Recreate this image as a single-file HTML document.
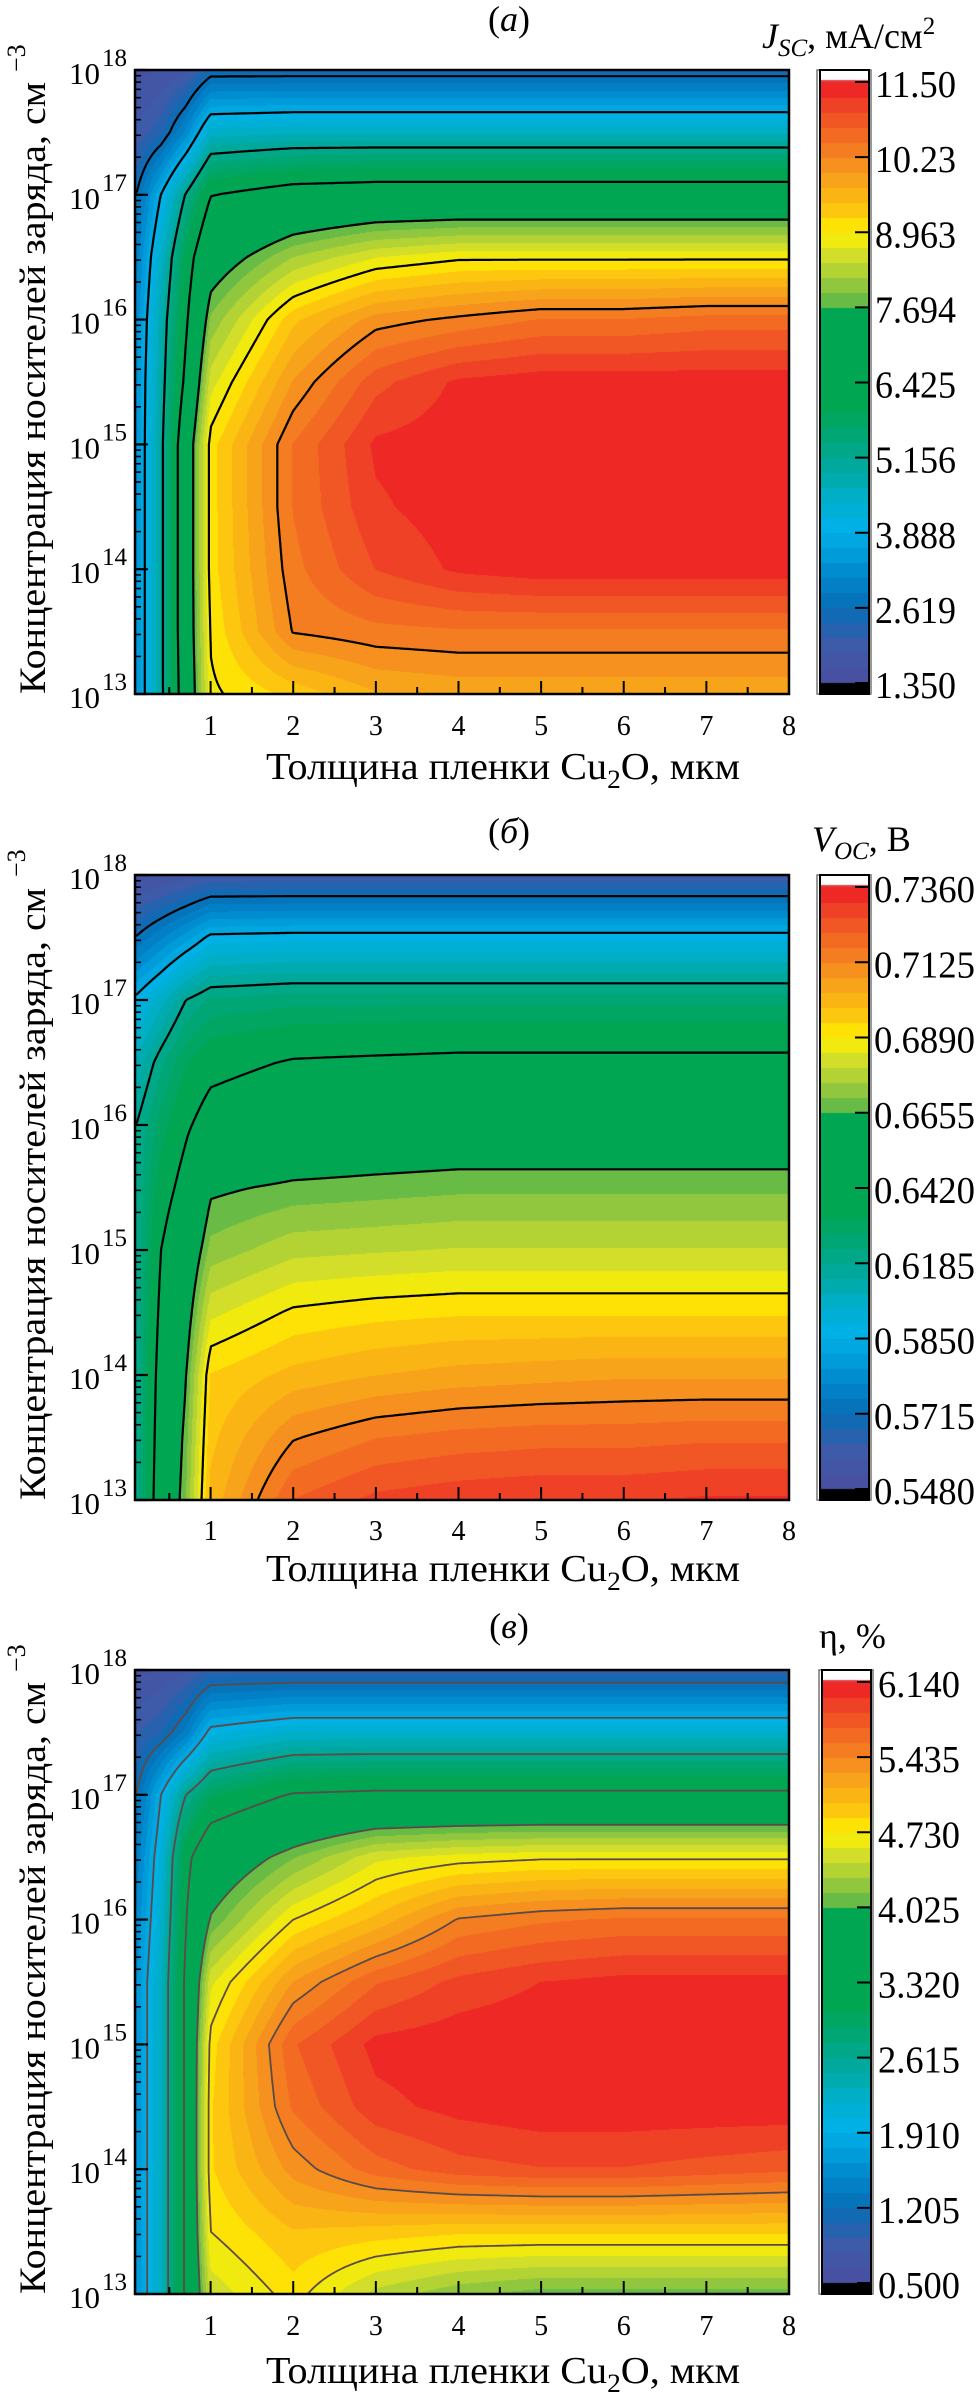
<!DOCTYPE html>
<html><head><meta charset="utf-8">
<style>
html,body{margin:0;padding:0;background:#fff;}
#wrap{position:relative;width:979px;height:2400px;overflow:hidden;background:#fff;}
canvas{position:absolute;display:block;}
svg{position:absolute;left:0;top:0;}
text{font-family:"Liberation Serif","DejaVu Serif",serif;fill:#000;}
</style></head>
<body>
<div id="wrap">
<canvas id="fillA"></canvas>
<canvas id="fillB"></canvas>
<canvas id="fillC"></canvas>
<canvas id="cbA"></canvas>
<canvas id="cbB"></canvas>
<canvas id="cbC"></canvas>
<svg id="ov" width="979" height="2400" xmlns="http://www.w3.org/2000/svg"></svg>
</div>
<script>
// ---- shared grid (x: thickness, µm; y: log10 concentration) ----
const xGrid = [0.1, 0.4, 0.7, 1, 2, 3, 4, 5, 6, 7, 8];
const logNGrid = [18, 17.5, 17, 16.5, 16, 15.5, 15, 14.5, 14, 13.5, 13];
const xTickValues = [1, 2, 3, 4, 5, 6, 7, 8];
const xTickLabels = ["1", "2", "3", "4", "5", "6", "7", "8"];
const yTickExps = [13, 14, 15, 16, 17, 18];

// ---- panel (a) Jsc ----
const jscValues = [
  [1.5, 1.6, 1.8, 2.4, 2.4, 2.4, 2.4, 2.4, 2.4, 2.4, 2.4],
  [1.9, 2.3, 3.2, 4.5, 4.6, 4.6, 4.6, 4.6, 4.6, 4.6, 4.6],
  [2.62, 3.9, 5.2, 6.4, 6.8, 6.9, 6.9, 6.9, 6.9, 6.9, 6.9],
  [3.0, 4.5, 6.0, 7.3, 8.2, 8.7, 8.9, 8.9, 8.9, 8.9, 8.9],
  [3.2, 4.8, 6.3, 8.0, 9.4, 10.1, 10.3, 10.5, 10.5, 10.6, 10.6],
  [3.3, 4.9, 6.6, 8.6, 10.0, 10.9, 11.3, 11.4, 11.4, 11.4, 11.4],
  [3.3, 5.0, 7.1, 9.1, 10.5, 11.3, 11.4, 11.5, 11.5, 11.5, 11.5],
  [3.3, 5.0, 7.1, 9.1, 10.5, 11.2, 11.4, 11.5, 11.5, 11.5, 11.5],
  [3.3, 5.0, 7.1, 9.1, 10.4, 11.0, 11.3, 11.4, 11.4, 11.4, 11.4],
  [3.3, 5.0, 7.1, 9.0, 10.25, 10.4, 10.45, 10.45, 10.45, 10.45, 10.45],
  [3.3, 5.0, 7.0, 8.9, 9.3, 9.7, 9.8, 9.8, 9.8, 9.8, 9.8]
];
const jscLevels = [2.619, 3.888, 5.156, 6.425, 7.694, 8.963, 10.23];
const jscTickLabels = ["11.50", "10.23", "8.963", "7.694", "6.425", "5.156", "3.888", "2.619", "1.350"];
const jscRange = [1.35, 11.5];

// ---- panel (б) Voc ----
const vocValues = [
  [0.550, 0.552, 0.555, 0.558, 0.558, 0.558, 0.558, 0.558, 0.558, 0.558, 0.558],
  [0.572, 0.580, 0.588, 0.597, 0.598, 0.598, 0.598, 0.598, 0.598, 0.598, 0.598],
  [0.597, 0.607, 0.6185, 0.624, 0.626, 0.626, 0.626, 0.626, 0.626, 0.626, 0.626],
  [0.610, 0.622, 0.632, 0.638, 0.643, 0.644, 0.645, 0.645, 0.645, 0.645, 0.645],
  [0.6185, 0.630, 0.640, 0.648, 0.654, 0.656, 0.657, 0.657, 0.657, 0.657, 0.657],
  [0.619, 0.636, 0.647, 0.664, 0.667, 0.668, 0.669, 0.669, 0.669, 0.669, 0.669],
  [0.619, 0.642, 0.655, 0.672, 0.678, 0.679, 0.680, 0.680, 0.680, 0.680, 0.680],
  [0.619, 0.645, 0.660, 0.683, 0.690, 0.692, 0.693, 0.693, 0.693, 0.693, 0.693],
  [0.619, 0.648, 0.665, 0.694, 0.700, 0.703, 0.705, 0.706, 0.707, 0.707, 0.707],
  [0.619, 0.650, 0.668, 0.697, 0.712, 0.717, 0.719, 0.720, 0.720, 0.721, 0.721],
  [0.619, 0.652, 0.670, 0.700, 0.722, 0.728, 0.730, 0.731, 0.731, 0.732, 0.732]
];
const vocLevels = [0.5715, 0.595, 0.6185, 0.642, 0.6655, 0.689, 0.7125];
const vocTickLabels = ["0.7360", "0.7125", "0.6890", "0.6655", "0.6420", "0.6185", "0.5850", "0.5715", "0.5480"];
const vocRange = [0.548, 0.736];

// ---- panel (в) efficiency ----
const etaValues = [
  [0.6, 0.65, 0.75, 0.95, 0.95, 0.95, 0.95, 0.95, 0.95, 0.95, 0.95],
  [0.9, 1.05, 1.4, 2.0, 2.2, 2.2, 2.2, 2.2, 2.2, 2.2, 2.2],
  [1.2, 1.91, 2.615, 3.0, 3.35, 3.4, 3.4, 3.4, 3.4, 3.4, 3.4],
  [1.4, 2.1, 3.2, 3.7, 4.15, 4.55, 4.65, 4.7, 4.7, 4.7, 4.7],
  [1.5, 2.2, 3.3, 4.05, 4.73, 5.05, 5.45, 5.55, 5.6, 5.6, 5.6],
  [1.6, 2.3, 3.4, 4.55, 5.3, 5.7, 5.9, 6.0, 6.05, 6.05, 6.05],
  [1.6, 2.3, 3.4, 4.8, 5.7, 6.05, 6.1, 6.12, 6.12, 6.12, 6.12],
  [1.6, 2.3, 3.4, 4.85, 5.6, 5.95, 6.05, 6.1, 6.1, 6.1, 6.1],
  [1.6, 2.3, 3.4, 4.85, 5.35, 5.65, 5.8, 5.85, 5.85, 5.8, 5.75],
  [1.6, 2.3, 3.4, 4.73, 5.0, 4.95, 4.9, 4.9, 4.9, 4.9, 4.9],
  [1.6, 2.3, 3.4, 4.5, 4.8, 4.4, 4.2, 4.1, 4.1, 4.1, 4.1]
];
const etaLevels = [1.205, 1.91, 2.615, 3.32, 4.025, 4.73, 5.435];
const etaTickLabels = ["6.140", "5.435", "4.730", "4.025", "3.320", "2.615", "1.910", "1.205", "0.500"];
const etaRange = [0.5, 6.14];

// ---- colormap ----
const cmapStops = [
  [0, "#4a4f9f"], [0.06, "#3f5aa8"], [0.12, "#0a6cb4"], [0.17, "#0082c8"], [0.22, "#00a0dc"],
  [0.26, "#00b1e6"], [0.31, "#00aec8"], [0.36, "#00a99d"], [0.42, "#00a66e"], [0.46, "#00a651"],
  [0.615, "#00a651"], [0.63, "#5cb848"], [0.67, "#9dcb3c"], [0.71, "#cfdd2c"], [0.75, "#fff000"],
  [0.79, "#fcc40f"], [0.84, "#f7a21b"], [0.88, "#f58220"], [0.92, "#f26424"], [0.96, "#ef4426"], [1, "#ed1c24"]
];
const NB = 40;
function hex(h){return [parseInt(h.substr(1,2),16),parseInt(h.substr(3,2),16),parseInt(h.substr(5,2),16)];}
const stopsRGB = cmapStops.map(s => [s[0], hex(s[1])]);
function cmap(f){
  f = Math.max(0, Math.min(1, f));
  for (let i = 1; i < stopsRGB.length; i++) {
    if (f <= stopsRGB[i][0]) {
      const a = stopsRGB[i-1], b = stopsRGB[i];
      const t = (f - a[0]) / (b[0] - a[0] || 1);
      return [0,1,2].map(k => Math.round(a[1][k] + (b[1][k]-a[1][k])*t));
    }
  }
  return stopsRGB[stopsRGB.length-1][1];
}
const bandColors = [];
for (let k = 0; k < NB; k++) bandColors.push(cmap((k + 0.5) / NB));
function bandColor(f){ let k = Math.floor(f * NB); if (k < 0) k = 0; if (k >= NB) k = NB-1; return bandColors[k]; }

// ---- geometry ----
const PL = 135, PR = 789, XMIN = 0.085, XMAX = 8;
function xScale(v){ return PL + (v - XMIN) / (XMAX - XMIN) * (PR - PL); }
function xInv(px){ return XMIN + (px - PL) / (PR - PL) * (XMAX - XMIN); }

function interp(values, x, ln){
  x = Math.max(xGrid[0], Math.min(xGrid[xGrid.length-1], x));
  ln = Math.max(13, Math.min(18, ln));
  let i = 0; while (i < xGrid.length-2 && x > xGrid[i+1]) i++;
  const tx = (x - xGrid[i]) / (xGrid[i+1] - xGrid[i]);
  let j = Math.floor((18 - ln) / 0.5); if (j > logNGrid.length-2) j = logNGrid.length-2;
  const ty = (logNGrid[j] - ln) / 0.5;
  const v00 = values[j][i], v01 = values[j][i+1], v10 = values[j+1][i], v11 = values[j+1][i+1];
  return (v00*(1-tx) + v01*tx)*(1-ty) + (v10*(1-tx) + v11*tx)*ty;
}

const NS = "http://www.w3.org/2000/svg";
const ov = document.getElementById("ov");
function el(tag, attrs, parent){
  const e = document.createElementNS(NS, tag);
  for (const k in attrs) e.setAttribute(k, attrs[k]);
  (parent || ov).appendChild(e);
  return e;
}

function renderPanel(cfg){
  const T = cfg.top, B = cfg.bottom, H = B - T, W = PR - PL;
  const yScale = ln => T + (18 - ln) / 5 * H;
  const yInv = py => 18 - (py - T) / H * 5;
  const [vmin, vmax] = cfg.range;

  const cv = document.getElementById(cfg.fillId);
  cv.width = W; cv.height = H; cv.style.left = PL + "px"; cv.style.top = T + "px";
  const ctx = cv.getContext("2d");
  const img = ctx.createImageData(W, H);
  for (let py = 0; py < H; py++) {
    const ln = yInv(T + py + 0.5);
    for (let px = 0; px < W; px++) {
      const v = interp(cfg.values, xInv(PL + px + 0.5), ln);
      const c = bandColor((v - vmin) / (vmax - vmin));
      const o = (py * W + px) * 4;
      img.data[o] = c[0]; img.data[o+1] = c[1]; img.data[o+2] = c[2]; img.data[o+3] = 255;
    }
  }
  ctx.putImageData(img, 0, 0);

  const g = el("g", {});
  
  

  const s = 2;
  const nx = Math.floor(W / s) + 1, ny = Math.floor(H / s) + 1;
  const grid = [];
  for (let j = 0; j < ny; j++) {
    const row = [];
    const ln = yInv(T + Math.min(j*s, H));
    for (let i = 0; i < nx; i++) row.push(interp(cfg.values, xInv(PL + Math.min(i*s, W)), ln));
    grid.push(row);
  }
  cfg.levels.forEach((lv, li) => {
    let d = "";
    for (let j = 0; j < ny-1; j++) for (let i = 0; i < nx-1; i++) {
      const a = grid[j][i], b = grid[j][i+1], c = grid[j+1][i+1], e = grid[j+1][i];
      const pts = [];
      const x0 = PL + i*s, y0 = T + j*s, x1 = PL + Math.min((i+1)*s, W), y1 = T + Math.min((j+1)*s, H);
      if ((a < lv) !== (b < lv)) pts.push([x0 + (lv-a)/(b-a)*(x1-x0), y0]);
      if ((b < lv) !== (c < lv)) pts.push([x1, y0 + (lv-b)/(c-b)*(y1-y0)]);
      if ((e < lv) !== (c < lv)) pts.push([x0 + (lv-e)/(c-e)*(x1-x0), y1]);
      if ((a < lv) !== (e < lv)) pts.push([x0, y0 + (lv-a)/(e-a)*(y1-y0)]);
      if (pts.length >= 2) d += "M" + pts[0][0].toFixed(1) + " " + pts[0][1].toFixed(1) + "L" + pts[1][0].toFixed(1) + " " + pts[1][1].toFixed(1);
      if (pts.length === 4) d += "M" + pts[2][0].toFixed(1) + " " + pts[2][1].toFixed(1) + "L" + pts[3][0].toFixed(1) + " " + pts[3][1].toFixed(1);
    }
    const p = el("path", {d: d, fill: "none", stroke: cfg.lineColor, "stroke-width": cfg.lineWidth, "stroke-linecap": "round"}, g);
    
    
  });

  const fr = el("rect", {x: PL, y: T, width: W, height: H, fill: "none", stroke: "#000", "stroke-width": 2.5}, g);
  
  

  for (let d = 13; d <= 18; d++) {
    for (let m = 1; m <= 9; m++) {
      const ln = d + Math.log10(m);
      if (ln > 18) break;
      const y = yScale(ln), len = m === 1 ? 13 : 6;
      const t = el("line", {x1: PL, x2: PL + len, y1: y, y2: y, stroke: "#000", "stroke-width": m === 1 ? 2.2 : 1.6}, g);
      
      
    }
  }
  yTickExps.forEach(ex => {
    const y = yScale(ex);
    const t = el("text", {x: 100, y: y + 14, "font-size": 31, "text-anchor": "end"}, g);
    t.textContent = "10";
    
    
    const sp = el("text", {x: 102, y: y - 4, "font-size": 25}, g);
    sp.textContent = String(ex);
    
    
  });

  for (let v = 0.5; v <= 8; v += 0.5) {
    const x = xScale(v), major = Math.abs(v - Math.round(v)) < 1e-6;
    const len = major ? 13 : 7;
    const t = el("line", {x1: x, x2: x, y1: B, y2: B - len, stroke: "#000", "stroke-width": 2}, g);
    
    
  }
  xTickValues.forEach((v, i) => {
    const t = el("text", {x: xScale(v), y: B + cfg.xLabelDy, "font-size": 28, "text-anchor": "middle"}, g);
    t.textContent = xTickLabels[i];
    
    
  });

  const xt = el("text", {x: 266, y: B + cfg.xTitleDy, "font-size": 38, textLength: 474, lengthAdjust: "spacingAndGlyphs"}, g);
  xt.innerHTML = 'Толщина пленки Cu<tspan font-size="26" dy="9">2</tspan><tspan dy="-9">O, мкм</tspan>';
  
  

  const yt = el("text", {transform: "translate(45," + B + ") rotate(-90)", x: 0, y: 0, "font-size": 37, textLength: 612, lengthAdjust: "spacingAndGlyphs"}, g);
  yt.textContent = "Концентрация носителей заряда, см";
  
  
  const ys = el("text", {transform: "translate(25," + (T + 2) + ") rotate(-90)", x: 0, y: 0, "font-size": 26}, g);
  ys.textContent = "−3";
  
  

  const pt = el("text", {x: 509, y: cfg.titleY, "font-size": 36, "text-anchor": "middle"}, g);
  pt.innerHTML = '(<tspan font-style="italic">' + cfg.letter + '</tspan>)';
  
  

  const cbx = cfg.cbX, cbw = 49;
  const fTop = cfg.cbMaxY, fBot = cfg.cbMinY;
  const cb = document.getElementById(cfg.cbId);
  cb.width = cbw; cb.height = H; cb.style.left = cbx + "px"; cb.style.top = T + "px";
  const cctx = cb.getContext("2d");
  cctx.fillStyle = "#fff"; cctx.fillRect(0, 0, cbw, H);
  for (let py = fTop - T; py < fBot - T; py++) {
    const f = 1 - (py + T - fTop) / (fBot - fTop);
    const c = bandColor(f);
    cctx.fillStyle = "rgb(" + c[0] + "," + c[1] + "," + c[2] + ")";
    cctx.fillRect(0, py, cbw, 1);
  }
  cctx.fillStyle = "#e04048"; cctx.fillRect(0, fTop - T - 2, cbw, 2);
  cctx.fillStyle = "#000"; cctx.fillRect(0, fBot - T, cbw, H - (fBot - T));
  const cbo = el("rect", {x: cbx - 3, y: T, width: cbw + 5, height: H, fill: "none", stroke: "#777", "stroke-width": 1.5}, g);
  
  
  const cbi = el("rect", {x: cbx, y: T, width: cbw, height: H, fill: "none", stroke: "#000", "stroke-width": 2}, g);
  
  
  cfg.tickLabels.forEach((lab, i) => {
    const y = fTop + i * (fBot - fTop) / (cfg.tickLabels.length - 1);
    const tk = el("line", {x1: cbx + cbw - 14, x2: cbx + cbw, y1: y, y2: y, stroke: "#000", "stroke-width": 2}, g);
    
    
    const tx = el("text", {x: cfg.cbLabelX, y: y + 15, "font-size": 38, textLength: cfg.cbLabelW, lengthAdjust: "spacingAndGlyphs"}, g);
    tx.textContent = lab;
    
    
  });
  const ct = el("text", {x: cfg.cbTitleX, y: cfg.cbTitleY, "font-size": 36}, g);
  ct.innerHTML = cfg.cbTitle;
  
  
}

renderPanel({key: "jsc", fillId: "fillA", cbId: "cbA", top: 70, bottom: 694, values: jscValues, levels: jscLevels,
  range: jscRange, tickLabels: jscTickLabels, lineColor: "#000", lineWidth: 2.2, letter: "a", titleY: 31,
  xLabelDy: 41, xTitleDy: 85, cbX: 820, cbMaxY: 82, cbMinY: 683, cbLabelX: 875, cbLabelW: 81,
  cbTitleX: 762, cbTitleY: 48,
  cbTitle: '<tspan font-style="italic">J</tspan><tspan font-size="25" dy="8" font-style="italic">SC</tspan><tspan dy="-8">, мА/см</tspan><tspan font-size="25" dy="-14">2</tspan>'});

renderPanel({key: "voc", fillId: "fillB", cbId: "cbB", top: 875, bottom: 1500, values: vocValues, levels: vocLevels,
  range: vocRange, tickLabels: vocTickLabels, lineColor: "#000", lineWidth: 2.2, letter: "б", titleY: 843,
  xLabelDy: 40, xTitleDy: 81, cbX: 820, cbMaxY: 887, cbMinY: 1489, cbLabelX: 874, cbLabelW: 101,
  cbTitleX: 812, cbTitleY: 851,
  cbTitle: '<tspan font-style="italic">V</tspan><tspan font-size="25" dy="8" font-style="italic">OC</tspan><tspan dy="-8">, В</tspan>'});

renderPanel({key: "eta", fillId: "fillC", cbId: "cbC", top: 1670, bottom: 2294, values: etaValues, levels: etaLevels,
  range: etaRange, tickLabels: etaTickLabels, lineColor: "#5a4a48", lineWidth: 1.8, letter: "в", titleY: 1638,
  xLabelDy: 41, xTitleDy: 89, cbX: 822, cbMaxY: 1682, cbMinY: 2283, cbLabelX: 878, cbLabelW: 82,
  cbTitleX: 819, cbTitleY: 1648,
  cbTitle: 'η, %'});
</script>
</body></html>
